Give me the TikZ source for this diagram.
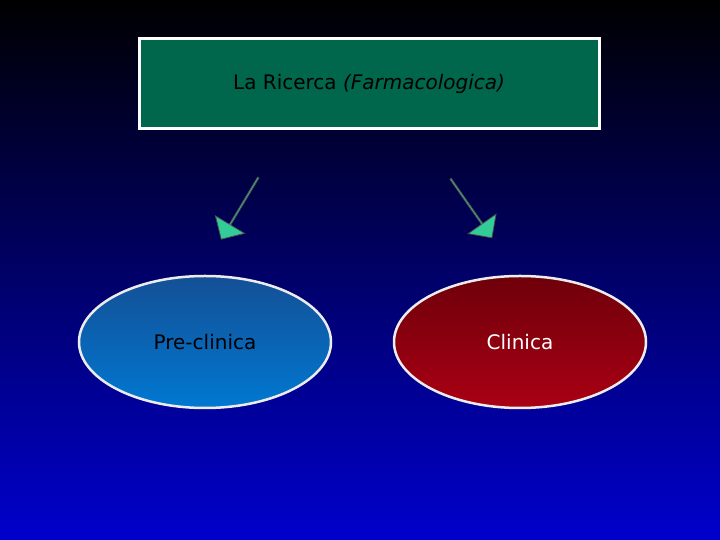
\documentclass[tikz,border=0pt]{standalone}
\usepackage{fontspec}
\setmainfont{DejaVu Sans}
\usetikzlibrary{shapes.arrows,shapes.geometric}
\definecolor{boxgreen}{RGB}{0,102,76}
\definecolor{arrgreen}{RGB}{51,204,153}
\begin{document}
\begin{tikzpicture}[x=1pt,y=1pt,
  blockarrow/.style={single arrow, draw=black!70, line width=0.8pt, fill=arrgreen,
    minimum height=72pt, minimum width=34pt, single arrow head extend=8pt, inner sep=0pt},
  oval/.style={ellipse, draw=white!85!gray, line width=2.5pt, minimum width=252pt, minimum height=132pt, font=\fontsize{20}{24}\selectfont}]
\shade[top color=black, bottom color={rgb,255:red,0;green,0;blue,205}] (0,0) rectangle (720,540);
\useasboundingbox (0,0) rectangle (720,540);
\node[draw=white, line width=3pt, fill=boxgreen, minimum width=460pt, minimum height=90pt, font=\fontsize{20}{24}\selectfont] (title) at (369,456) {La Ricerca \textit{(Farmacologica)}};
\node[blockarrow, rotate=-121] (la) at (240,332) {};
\node[blockarrow, rotate=-55] (ra) at (471,332) {};
\node[oval, top color={rgb,255:red,20;green,80;blue,150}, bottom color={rgb,255:red,0;green,120;blue,210}] (pre) at (205,198) {Pre-clinica};
\node[oval, top color={rgb,255:red,110;green,0;blue,10}, bottom color={rgb,255:red,170;green,0;blue,20}, text=white] (cli) at (520,198) {Clinica};
\end{tikzpicture}
\end{document}
